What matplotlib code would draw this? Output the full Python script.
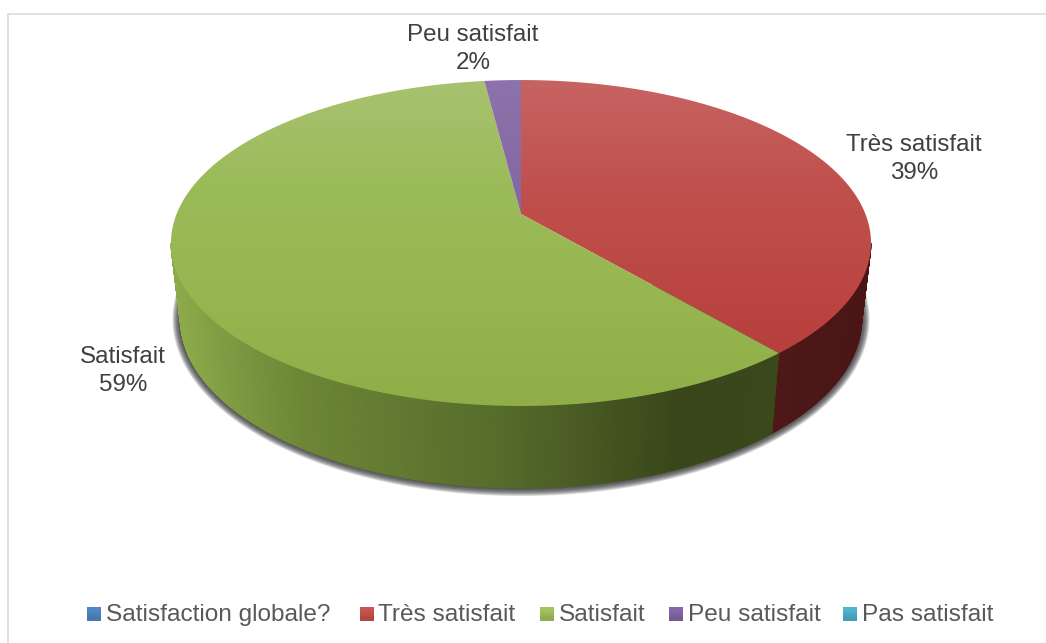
import numpy as np
from matplotlib import pyplot as plt
from matplotlib.collections import PolyCollection
from matplotlib.patches import Polygon, Rectangle
from matplotlib.colors import to_rgb

plt.rcParams['font.family'] = ['Liberation Sans', 'DejaVu Sans']

categories = ['Satisfaction globale?', 'Très satisfait', 'Satisfait', 'Peu satisfait', 'Pas satisfait']
values = [0, 38.8, 59.2, 2.0, 0]
base_colors = ['#4f81bd', '#c0504d', '#9bbb59', '#8064a2', '#4bacc6']
top_shades = {
    'Très satisfait': ['#c76462', '#c0504d', '#bb4542', '#b23a37'],
    'Satisfait': ['#a8c270', '#9bbb59', '#97b650', '#90ae48'],
    'Peu satisfait': ['#8d72ab', '#8064a2', '#75588f'],
}
side_stops = {
    'Très satisfait': ([772, 862], ['#4e1817', '#4a1615']),
    'Satisfait': ([172, 300, 500, 680, 775], ['#8dab4b', '#6d8736', '#566c2b', '#39461a', '#3b481b']),
}
legend_swatch_x = [87, 360, 540, 669, 843]
data_label_pos = {'Très satisfait': (914, 159), 'Satisfait': (123, 371), 'Peu satisfait': (473, 49)}

# perspective of the pie, in pixels
CX, CY = 521, 214
PERSP = 0.178
AX_X, AX_Y = 344.4, 157.8


def top_rim(theta):
    u, v = np.sin(theta), np.cos(theta)
    w = 1 + PERSP * v
    return CX + AX_X * u / w, CY - AX_Y * v / w


def low_rim(theta):
    x, y = top_rim(theta)
    return CX + (x - CX) * 0.973, CY + (y - CY) * 1.037 + 75


def vgrad(ax, shades, extent, clip):
    stops = np.array([to_rgb(c) for c in shades])
    pos = np.linspace(0, 1, len(shades))
    t = np.linspace(0, 1, 256)
    img = np.stack([np.interp(t, pos, stops[:, i]) for i in range(3)], axis=1)[:, None, :]
    im = ax.imshow(img, extent=extent, aspect='auto', interpolation='bilinear', zorder=4)
    im.set_clip_path(clip)


fig = plt.figure(figsize=(10.46, 6.43), dpi=100)
ax = fig.add_axes([0, 0, 1, 1])

# frame of the chart area
ax.plot([8, 8, 1046], [643, 14, 14], color='#dcdcdc', lw=1.2, zorder=1)

# soft shadow under the pie
ring = np.linspace(0, 2 * np.pi, 361)
lx, ly = low_rim(ring)
lcx, lcy = (lx.max() + lx.min()) / 2, (ly.max() + ly.min()) / 2
shadow_clip = Rectangle((0, 285), 1046, 358, transform=ax.transData)
for grow in np.linspace(8, 0, 12):
    sx = 1 + grow / (lx.max() - lcx)
    sy = 1 + grow / (ly.max() - lcy)
    shadow = Polygon(np.c_[lcx + (lx - lcx) * sx, lcy + (ly - lcy) * sy], closed=True,
                     facecolor='#303030', edgecolor='none', alpha=0.14, zorder=2)
    ax.add_patch(shadow)
    shadow.set_clip_path(shadow_clip)

fractions = np.array(values, dtype=float) / sum(values)
ends = np.cumsum(fractions) * 2 * np.pi
starts = ends - fractions * 2 * np.pi
front_a = np.arccos(-PERSP)
front_b = 2 * np.pi - front_a

for name, start, end in zip(categories, starts, ends):
    if end <= start:
        continue

    # wall of the slice, only where it faces the viewer
    a, b = max(start, front_a), min(end, front_b)
    if b > a and name in side_stops:
        th = np.linspace(a, b, max(int((b - a) * 180), 2))
        tx, ty = top_rim(th)
        bx, by = low_rim(th)
        quads = [[(tx[i], ty[i]), (tx[i + 1], ty[i + 1]), (bx[i + 1], by[i + 1]), (bx[i], by[i])]
                 for i in range(len(th) - 1)]
        xs, cols = side_stops[name]
        rgb = np.array([to_rgb(c) for c in cols])
        mid = (tx[:-1] + tx[1:]) / 2
        face = np.stack([np.interp(mid, xs, rgb[:, i]) for i in range(3)], axis=1)
        ax.add_collection(PolyCollection(quads, facecolors=face, edgecolors=face, linewidths=0.6, zorder=3))

    # top face
    th = np.linspace(start, end, max(int((end - start) * 180), 4))
    rx, ry = top_rim(th)
    poly = Polygon(np.c_[np.r_[CX, rx], np.r_[CY, ry]], closed=True, transform=ax.transData,
                   facecolor='none', edgecolor='none')
    ax.add_patch(poly)
    vgrad(ax, top_shades[name], (150, 890, 410, 78), poly)

# data labels
for name, val in zip(categories, values):
    if name in data_label_pos:
        x, y = data_label_pos[name]
        ax.text(x, y, f'{name}\n{round(val)}%', ha='center', va='center', fontsize=17.4, color='#404040',
                linespacing=1.36, zorder=6)

# legend
for name, x, color in zip(categories, legend_swatch_x, base_colors):
    swatch = np.array(to_rgb(color))
    img = np.stack([swatch * 1.05, swatch * 0.92]).clip(0, 1)[:, None, :]
    ax.imshow(img, extent=(x, x + 14, 621, 607), aspect='auto', interpolation='bilinear', zorder=5)
    ax.text(x + 18.5, 615, name, ha='left', va='center', fontsize=17.6, color='#595959', zorder=6)

ax.set_xlim(0, 1046)
ax.set_ylim(643, 0)
ax.axis('off')
fig.savefig('out.png', dpi=100)
